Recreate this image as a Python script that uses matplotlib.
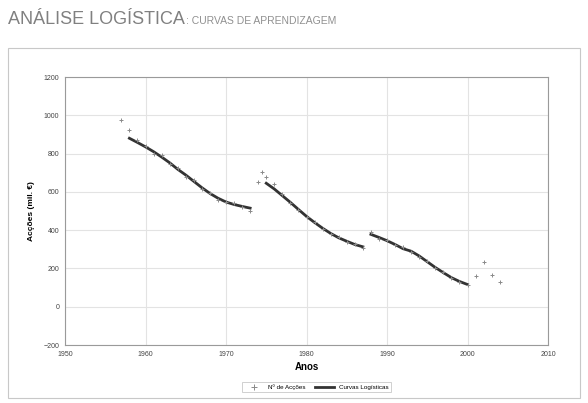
import matplotlib
matplotlib.use('Agg')
import matplotlib.pyplot as plt
from matplotlib.patches import Rectangle

plt.rcParams['font.family'] = ['Liberation Sans', 'DejaVu Sans']

# -------------------- dados --------------------
# número de acções (pontos anuais)
anos_pts = [1957, 1958, 1959, 1960, 1961, 1962, 1963, 1964, 1965, 1966, 1967, 1968, 1969, 1970,
            1971, 1972, 1973,
            1974, 1974.5, 1975, 1976, 1977, 1978, 1979, 1980, 1981, 1982, 1983, 1984, 1985, 1986, 1987,
            1988, 1989, 1990, 1991, 1992, 1993, 1994, 1995, 1996, 1997, 1998, 1999, 2000,
            2001, 2002, 2003, 2004]
accoes_pts = [975, 925, 870, 840, 800, 790, 745, 725, 680, 660, 615, 595, 560, 545,
              540, 520, 500,
              650, 705, 680, 640, 590, 540, 505, 470, 445, 405, 380, 365, 340, 330, 305,
              390, 355, 350, 320, 310, 285, 260, 240, 200, 180, 150, 130, 115,
              160, 235, 165, 130]

# curvas logísticas ajustadas (3 ciclos)
anos_c1 = [1958, 1959, 1960, 1961, 1962, 1963, 1964, 1965, 1966, 1967, 1968, 1969, 1970, 1971, 1972, 1973]
curva_c1 = [880, 858, 835, 810, 782, 752, 718, 688, 655, 622, 592, 567, 547, 534, 524, 515]

anos_c2 = [1975, 1976, 1977, 1978, 1979, 1980, 1981, 1982, 1983, 1984, 1985, 1986, 1987]
curva_c2 = [645, 615, 580, 545, 508, 472, 440, 410, 383, 360, 342, 325, 313]

anos_c3 = [1988, 1989, 1990, 1991, 1992, 1993, 1994, 1995, 1996, 1997, 1998, 1999, 2000]
curva_c3 = [378, 362, 345, 325, 303, 290, 265, 235, 205, 178, 152, 132, 116]

x_ticks = [1950, 1960, 1970, 1980, 1990, 2000, 2010]
y_ticks = [-200, 0, 200, 400, 600, 800, 1000, 1200]

# -------------------- figura --------------------
fig = plt.figure(figsize=(5.88, 4.03), dpi=100)
fig.patches.append(Rectangle((8 / 588, 1 - 398 / 403), 572 / 588, 350 / 403,
                             transform=fig.transFigure, fill=False,
                             edgecolor='#c8c8c8', linewidth=0.8))

fig.text(8 / 588, 1 - 24 / 403, "ANÁLISE LOGÍSTICA", fontsize=13, color='#808080',
         ha='left', va='baseline')
fig.text(186 / 588, 1 - 24 / 403, ": CURVAS DE APRENDIZAGEM", fontsize=7.5, color='#909090',
         ha='left', va='baseline')

ax = fig.add_axes([65 / 588, 1 - 345 / 403, 483 / 588, 268 / 403])

ax.scatter(anos_pts, accoes_pts, marker='+', s=8, color='#8a8a8a', linewidths=0.7,
           label='Nº de Acções', zorder=3)
ax.plot(anos_c1, curva_c1, color='#333333', linewidth=2.0, label='Curvas Logísticas', zorder=2)
ax.plot(anos_c2, curva_c2, color='#333333', linewidth=2.0, zorder=2)
ax.plot(anos_c3, curva_c3, color='#333333', linewidth=2.0, zorder=2)

ax.set_xlim(1950, 2010)
ax.set_ylim(-200, 1200)
ax.set_xticks(x_ticks)
ax.set_yticks(y_ticks)
ax.tick_params(labelsize=5, length=0, colors='#444444', pad=4)
ax.grid(True, color='#e3e3e3', linewidth=0.8)
ax.set_axisbelow(True)
for s in ax.spines.values():
    s.set_color('#9a9a9a')
    s.set_linewidth(0.8)

ax.set_xlabel("Anos", fontsize=7, fontweight='bold', labelpad=3)
ax.set_ylabel("Acções (mil. €)", fontsize=6, fontweight='bold', labelpad=6)

leg = ax.legend(loc='upper center', bbox_to_anchor=(0.52, -0.125), ncol=2, fontsize=4.5,
                frameon=True, fancybox=False, edgecolor='#bbbbbb', markerscale=1.5,
                handlelength=3, columnspacing=1.5, borderpad=0.4)
leg.get_frame().set_linewidth(0.6)

fig.savefig('out.png', dpi=100)
